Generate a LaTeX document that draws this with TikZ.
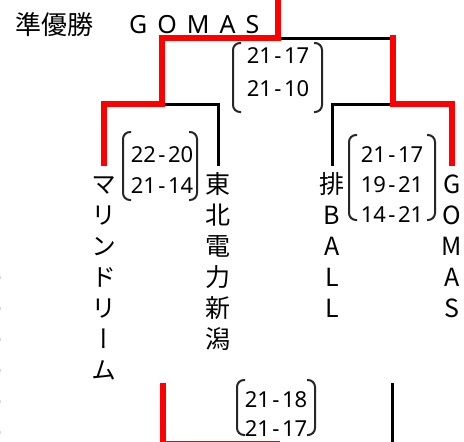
\documentclass[tikz,border=0pt]{standalone}
\usepackage{fontspec}
\setmainfont{Noto Sans}
\newfontfamily\jpfont[RawFeature=+vert]{Noto Sans CJK JP}
\usetikzlibrary{positioning}
\definecolor{winred}{HTML}{FF0000}
\newcommand{\score}[2]{#1\kern2.5pt-\kern2.5pt#2}
% a pair of round brackets: left x, top y, right x, bottom y
\newcommand{\parens}[4]{%
  \draw[paren] (#1+8,#2) -- (#1,#2) -- (#1,#4) -- (#1+8,#4);
  \draw[paren] (#3-8,#2) -- (#3,#2) -- (#3,#4) -- (#3-8,#4);}

\begin{document}
\begin{tikzpicture}[x=1pt, y=-1pt,
  team/.style={font=\jpfont\fontsize{25}{31}\selectfont, align=center, inner sep=0pt},
  score/.style={font=\fontsize{22}{31}\selectfont, align=center, inner sep=0pt, anchor=base},
  win/.style={draw=winred, line width=6pt},
  lose/.style={draw=black, line width=3pt},
  paren/.style={draw=black!85, line width=2pt, rounded corners=7pt},
]
  \useasboundingbox (0,0) rectangle (464,442);

  % Header
  \node[anchor=base west, inner sep=0pt, font=\jpfont\fontsize{26}{26}\selectfont] (rank) at (15,34) {準優勝};
  \node[anchor=base west, inner sep=0pt, font=\fontsize{25}{25}\selectfont] (runner) at (129,33)
    {G\kern10pt O\kern10pt M\kern10pt A\kern10pt S};

  % Bracket points
  \coordinate (champ) at (278,-6);
  \coordinate (final) at (278,38);
  \coordinate (semiL) at (162,104);
  \coordinate (semiR) at (393,104);
  \coordinate (eMari) at (104,166);
  \coordinate (eTohoku) at (218,166);
  \coordinate (eHai) at (332,166);
  \coordinate (eGomas) at (452,166);
  \coordinate (bLeft) at (163,383);
  \coordinate (bRight) at (392,383);
  \coordinate (bMid) at (280,444);
  \coordinate (bEnd) at (392,446);

  % Teams (base = last line)
  \node[team, below=213pt of eMari, anchor=base] (mari) {マ\\リ\\ン\\ド\\リ\\ー\\ム};
  \node[team, below=182pt of eTohoku, anchor=base] (tohoku) {東\\北\\電\\力\\新\\潟};
  \node[team, below=151pt of eHai, anchor=base] (hai) {排\\B\\A\\L\\L};
  \node[team, below=151pt of eGomas, anchor=base] (gomas) {G\\O\\M\\A\\S};

  % Scores
  \node[score, font=\fontsize{22}{33}\selectfont] (sFinal) at (278,96) {\score{21}{17}\\\score{21}{10}};
  \node[score, font=\fontsize{22}{31.5}\selectfont] (sLeft) at (162,193.5) {\score{22}{20}\\\score{21}{14}};
  \node[score, font=\fontsize{22}{30}\selectfont] (sRight) at (392,222) {\score{21}{17}\\\score{19}{21}\\\score{14}{21}};
  \node[score, font=\fontsize{22}{29}\selectfont] (sBottom) at (276,436) {\score{21}{18}\\\score{21}{17}};
  \parens{233}{43}{322}{112}
  \parens{123}{132}{197}{200}
  \parens{349}{135}{435}{220}
  \parens{237}{380}{315}{435}

  % Lines
  \draw[lose] (final) -- (final -| semiR);
  \draw[lose] (semiL) -| (eTohoku);
  \draw[lose] (semiR) -| (eHai);
  \draw[lose] (bRight) -- (bEnd);
  \draw[win] (champ) -- (final) -| (semiL) -| (eMari);
  \draw[win] ([yshift=3pt]final -| semiR) -- (semiR) -| (eGomas);
  \draw[win] (bLeft) |- (bMid);

  \foreach \y in {277,308,...,432}
    \fill[black!15] (0,\y-1.5) rectangle (1.2,\y+1.5);
\end{tikzpicture}
\end{document}
